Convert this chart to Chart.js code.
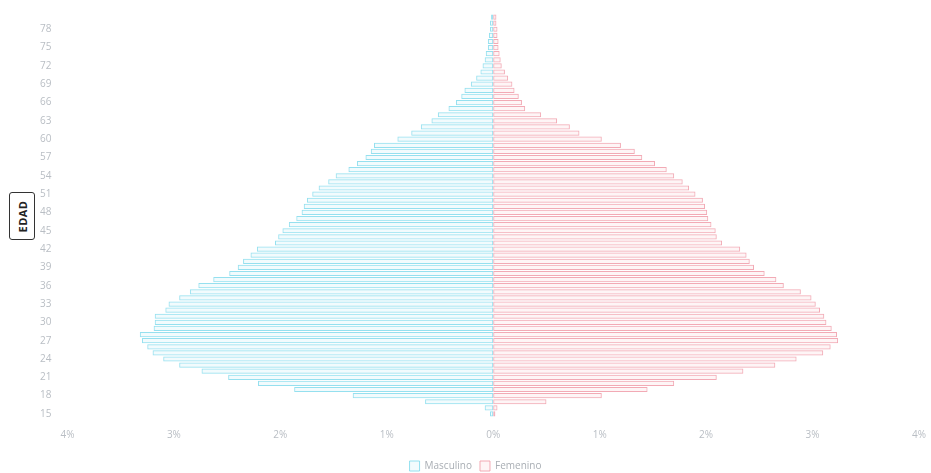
<!DOCTYPE html>
<html>
<head>
<meta charset="utf-8">
<script src="https://cdn.jsdelivr.net/npm/chart.js@4/dist/chart.umd.min.js"></script>
<style>
  html, body { margin: 0; padding: 0; background: #fff; }
  #wrap { position: relative; width: 931px; height: 473px; }
  #edad {
    position: absolute; left: 9px; top: 192px; width: 24px; height: 46px;
    border: 1.5px solid #333; border-radius: 3px; background: #fff;
    display: flex; align-items: center; justify-content: center;
  }
  #edad span {
    transform: rotate(-90deg); font: bold 11px "Open Sans", sans-serif;
    color: #222; letter-spacing: 0.5px; white-space: nowrap;
  }
</style>
</head>
<body>
<div id="wrap">
  <canvas id="pyramid" width="931" height="473"></canvas>
  <div id="edad"><span>EDAD</span></div>
</div>
<script>
// ages 15..80, values in % of population
const ages = [];
for (let a = 15; a <= 80; a++) ages.push(String(a));

const masculino = [
  0.03, 0.08, 0.64, 1.32, 1.87, 2.21, 2.49, 2.74, 2.95, 3.10,
  3.20, 3.25, 3.30, 3.32, 3.19, 3.18, 3.18, 3.08, 3.05, 2.95,
  2.85, 2.77, 2.63, 2.48, 2.40, 2.35, 2.28, 2.22, 2.05, 2.02,
  1.98, 1.92, 1.85, 1.80, 1.78, 1.75, 1.70, 1.64, 1.55, 1.48,
  1.36, 1.28, 1.20, 1.15, 1.12, 0.90, 0.77, 0.68, 0.58, 0.52,
  0.42, 0.35, 0.30, 0.27, 0.21, 0.16, 0.12, 0.10, 0.08, 0.07,
  0.05, 0.05, 0.04, 0.03, 0.03, 0.02
];

const femenino = [
  0.02, 0.04, 0.50, 1.02, 1.45, 1.70, 2.10, 2.35, 2.65, 2.85,
  3.10, 3.17, 3.24, 3.23, 3.18, 3.13, 3.11, 3.07, 3.03, 2.99,
  2.89, 2.73, 2.66, 2.55, 2.45, 2.41, 2.38, 2.32, 2.15, 2.10,
  2.09, 2.05, 2.02, 2.01, 1.99, 1.97, 1.90, 1.84, 1.78, 1.70,
  1.63, 1.52, 1.40, 1.33, 1.20, 1.02, 0.81, 0.72, 0.60, 0.45,
  0.30, 0.27, 0.24, 0.20, 0.18, 0.14, 0.11, 0.08, 0.07, 0.06,
  0.05, 0.05, 0.04, 0.04, 0.03, 0.03
];

const xTicks = [-4, -3, -2, -1, 0, 1, 2, 3, 4];

const tickColor = '#b9bec4';
const fontFamily = '"Open Sans", sans-serif';

const ctx = document.getElementById('pyramid').getContext('2d');

new Chart(ctx, {
  type: 'bar',
  data: {
    labels: ages,
    datasets: [
      {
        label: 'Masculino',
        data: masculino.map(v => -v),
        backgroundColor: 'rgba(150, 222, 238, 0.12)',
        borderColor: 'rgba(130, 218, 236, 0.85)',
        borderWidth: 1,
        borderSkipped: false
      },
      {
        label: 'Femenino',
        data: femenino,
        backgroundColor: 'rgba(245, 170, 180, 0.12)',
        borderColor: 'rgba(240, 155, 168, 0.85)',
        borderWidth: 1,
        borderSkipped: false
      }
    ]
  },
  options: {
    indexAxis: 'y',
    responsive: false,
    animation: false,
    layout: {
      padding: { top: 10, right: 12, bottom: -8, left: 32 }
    },
    datasets: {
      bar: { categoryPercentage: 1.0, barPercentage: 0.85 }
    },
    scales: {
      x: {
        stacked: true,
        min: -4,
        max: 4,
        afterBuildTicks: scale => {
          scale.ticks = xTicks.map(v => ({ value: v }));
        },
        afterFit: scale => {
          scale.height += 8; // a bit more room before the legend
        },
        grid: { display: false },
        border: { display: false },
        ticks: {
          color: tickColor,
          font: { family: fontFamily, size: 10 },
          padding: 4,
          callback: v => Math.abs(v) + '%'
        }
      },
      y: {
        stacked: true,
        reverse: true,
        grid: { display: false },
        border: { display: false },
        ticks: {
          autoSkip: false,
          color: tickColor,
          font: { family: fontFamily, size: 10 },
          padding: 8,
          callback: function (value, index) {
            return index % 3 === 0 ? ages[index] : '';
          }
        }
      }
    },
    plugins: {
      legend: {
        position: 'bottom',
        labels: {
          color: '#a9aeb4',
          font: { family: fontFamily, size: 10 },
          boxWidth: 10,
          boxHeight: 10,
          padding: 8
        }
      },
      tooltip: { enabled: false }
    }
  }
});
</script>
</body>
</html>
